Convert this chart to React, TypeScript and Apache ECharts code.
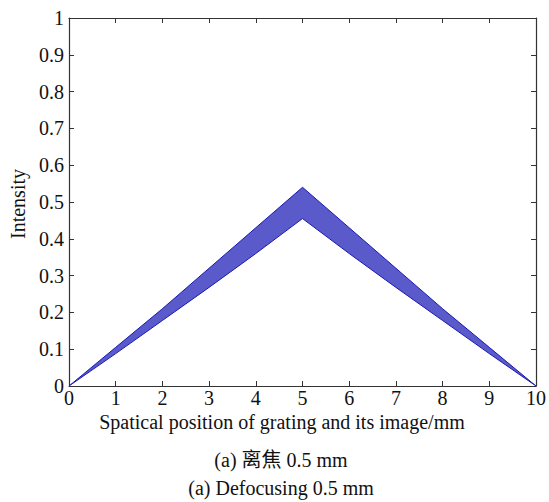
import React, { useEffect, useRef } from "react";
import * as echarts from "echarts";

// Envelope of the oscillating intensity, read at integer positions (mm)
const positions = [0, 1, 2, 3, 4, 5, 6, 7, 8, 9, 10];
const upperEnvelope = [0, 0.105, 0.21, 0.32, 0.43, 0.54, 0.43, 0.32, 0.21, 0.105, 0];
const lowerEnvelope = [0, 0.088, 0.178, 0.268, 0.36, 0.455, 0.36, 0.268, 0.178, 0.088, 0];

const xTicks = [0, 1, 2, 3, 4, 5, 6, 7, 8, 9, 10];
const yTickLabels = ["0", "0.1", "0.2", "0.3", "0.4", "0.5", "0.6", "0.7", "0.8", "0.9", "1"];

const xTitle = "Spatical position of grating and its image/mm";
const yTitle = "Intensity";
const captionCn = "(a) 离焦 0.5 mm";
const captionEn = "(a) Defocusing 0.5 mm";

const FONT = "'Liberation Serif', 'Times New Roman', 'Noto Sans CJK SC', serif";

export default function App() {
  const ref = useRef<HTMLDivElement>(null);
  useEffect(() => {
    if (!ref.current) return;
    const chart = echarts.init(ref.current, undefined, { renderer: "svg" });
    const upperData = positions.map((x, i) => [x, upperEnvelope[i]]);
    const lowerData = positions.map((x, i) => [x, lowerEnvelope[i]]);
    const axisLine = { show: true, onZero: false, lineStyle: { color: "#333", width: 1.2 } };
    const tick = { show: true, inside: true, length: 5, lineStyle: { color: "#333" } };
    const label = { color: "#111", fontFamily: FONT, fontSize: 20 };
    chart.setOption({
      animation: false,
      backgroundColor: "#fff",
      grid: { left: 69, right: 9, top: 18, bottom: 116, containLabel: false },
      xAxis: [
        {
          type: "value", min: 0, max: 10, interval: 1, position: "bottom", z: 10,
          axisLine, axisTick: tick, splitLine: { show: false },
          axisLabel: { ...label, margin: 2, formatter: (v: number) => String(xTicks[Math.round(v)] ?? v) },
        },
        {
          type: "value", min: 0, max: 10, interval: 1, position: "top", z: 10,
          axisLine, axisTick: tick, splitLine: { show: false }, axisLabel: { show: false },
        },
      ],
      yAxis: [
        {
          type: "value", min: 0, max: 1, interval: 0.1, position: "left", z: 10,
          axisLine, axisTick: tick, splitLine: { show: false },
          axisLabel: { ...label, margin: 5, formatter: (v: number) => yTickLabels[Math.round(v * 10)] ?? String(v) },
        },
        {
          type: "value", min: 0, max: 1, interval: 0.1, position: "right", z: 10,
          axisLine, axisTick: tick, splitLine: { show: false }, axisLabel: { show: false },
        },
      ],
      series: [
        {
          type: "line", name: "upper", data: upperData, symbol: "none", z: 2,
          lineStyle: { color: "#1a1ab4", width: 1 },
          areaStyle: { color: "#5a5acb", opacity: 1 },
        },
        {
          type: "line", name: "lower", data: lowerData, symbol: "none", z: 3,
          lineStyle: { color: "#1a1ab4", width: 1 },
          areaStyle: { color: "#ffffff", opacity: 1 },
        },
      ],
      graphic: [
        {
          type: "text", x: 282, y: 422,
          style: { text: xTitle, font: `20px ${FONT}`, fill: "#111", align: "center", verticalAlign: "middle" },
        },
        {
          type: "text", x: 18, y: 204, rotation: Math.PI / 2,
          style: { text: yTitle, font: `20px ${FONT}`, fill: "#111", align: "center", verticalAlign: "middle" },
        },
        {
          type: "text", x: 281, y: 460,
          style: { text: captionCn, font: `20px ${FONT}`, fill: "#111", align: "center", verticalAlign: "middle" },
        },
        {
          type: "text", x: 281, y: 488,
          style: { text: captionEn, font: `20px ${FONT}`, fill: "#111", align: "center", verticalAlign: "middle" },
        },
      ],
    });
    return () => chart.dispose();
  }, []);
  return <div ref={ref} style={{ position: "fixed", left: 0, top: 0, width: 549, height: 502 }} />;
}
